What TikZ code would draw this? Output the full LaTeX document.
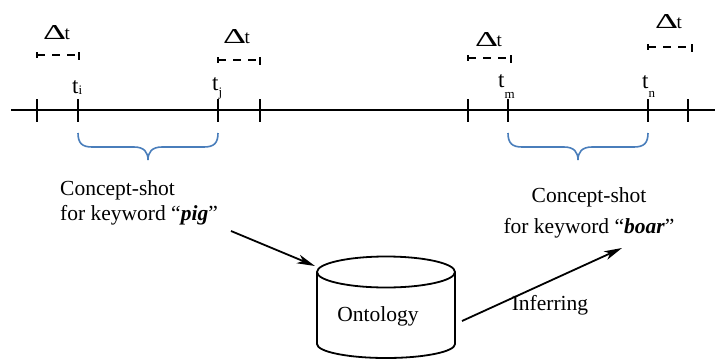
\documentclass[tikz,border=0pt]{standalone}
\usepackage{fontspec}
\setmainfont{Liberation Serif}
\usetikzlibrary{arrows.meta}
\definecolor{braceblue}{RGB}{74,126,187}
\newcommand{\mainsz}{\fontsize{21.5}{24}\selectfont}
\newcommand{\subsz}{\fontsize{13}{13}\selectfont}
\newcommand{\tsz}{\fontsize{23}{24}\selectfont}
\newcommand{\dlt}{\resizebox{23pt}{14pt}{Δ}\hspace{-1.5pt}{\fontsize{19}{19}\selectfont t}}
\begin{document}
\begin{tikzpicture}[x=1pt,y=-1pt,
  axisline/.style={line width=1.8pt},
  tickmark/.style={line width=1.8pt},
  ivl/.style={line width=1.8pt, dash pattern=on 7.5pt off 7.5pt},
  ivltick/.style={line width=1.8pt},
  bracestyle/.style={draw=braceblue, line width=1.6pt},
  txt/.style={font=\mainsz, inner sep=0pt},
  tlabel/.style={font=\tsz, inner sep=0pt, anchor=base west},
  dlabel/.style={inner sep=0pt, anchor=base west},
  cyl/.style={line width=1.8pt},
  arr/.style={line width=1.8pt, -{Stealth[length=18pt,width=9pt,inset=5pt]}}]
\useasboundingbox (0,0) rectangle (715,359);

% timeline
\coordinate (ls) at (11,110);
\coordinate (le) at (715,110);
\draw[axisline] (ls) -- (le);
\foreach \x in {37,78,218,260,468,508,648,688}
  \draw[tickmark] (\x,99) -- (\x,122);

% time labels
\node[tlabel] (ti) at (72,93) {t\raisebox{-1pt}{\subsz i}};
\node[tlabel] (tj) at (212,90) {t\raisebox{-6.5pt}{\subsz j}};
\node[tlabel] (tm) at (498,87) {t\raisebox{-11pt}{\subsz m}};
\node[tlabel] (tn) at (642,88) {t\raisebox{-9pt}{\subsz n}};

% delta-t intervals
\draw[ivl] (37,55) -- (79,55);
\draw[ivltick] (37,52) -- (37,58);
\draw[ivltick] (79,52) -- (79,60);
\node[dlabel] (d1) at (43,39) {\dlt};

\draw[ivl] (218,60) -- (260,60);
\draw[ivltick] (218,57) -- (218,63);
\draw[ivltick] (260,57) -- (260,65);
\node[dlabel] (d2) at (223,43) {\dlt};

\draw[ivl] (468,58) -- (511,58);
\draw[ivltick] (468,55) -- (468,61);
\draw[ivltick] (511,55) -- (511,63);
\node[dlabel] (d3) at (475,46) {\dlt};

\draw[ivl] (648,47) -- (692,47);
\draw[ivltick] (648,44) -- (648,50);
\draw[ivltick] (692,44) -- (692,52);
\node[dlabel] (d4) at (655,28) {\dlt};

% braces
\draw[bracestyle] (78,133) .. controls (78,143) and (82,147) .. (92,147) -- (134,147)
  .. controls (144,147) and (148,152) .. (148,160)
  .. controls (148,152) and (152,147) .. (162,147) -- (204,147)
  .. controls (214,147) and (218,143) .. (218,133);
\draw[bracestyle] (508,133) .. controls (508,143) and (512,147) .. (522,147) -- (564,147)
  .. controls (574,147) and (578,152) .. (578,160)
  .. controls (578,152) and (582,147) .. (592,147) -- (634,147)
  .. controls (644,147) and (648,143) .. (648,133);

% texts
\node[txt, anchor=base west] (c1a) at (60,195) {Concept-shot};
\node[txt, anchor=base west] (c1b) at (60,220) {for keyword “\textbf{\textit{pig}}”};
\node[txt, anchor=base] (c2a) at (589,202) {Concept-shot};
\node[txt, anchor=base] (c2b) at (589,233) {for keyword “\textbf{\textit{boar}}”};

% ontology cylinder
\draw[cyl] (317,272) -- (317,344) arc[start angle=180, end angle=360, x radius=69pt, y radius=14pt] -- (455,272);
\draw[cyl] (386,272) ellipse [x radius=69pt, y radius=15.5pt];
\node[txt] (onto) at (378,316) {Ontology};

% arrows
\coordinate (a1s) at (231,231);
\coordinate (a1e) at (315,266);
\coordinate (a2s) at (462,321);
\coordinate (a2e) at (622,248);
\draw[arr] (a1s) -- (a1e);
\draw[arr] (a2s) -- (a2e);
\node[txt] (inf) at (550,305) {Inferring};
\end{tikzpicture}
\end{document}
